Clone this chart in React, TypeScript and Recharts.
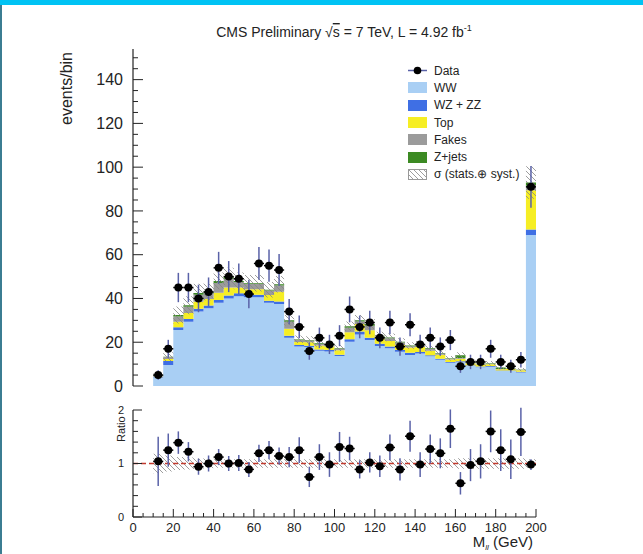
import { ComposedChart, Area, Scatter, ErrorBar, XAxis, YAxis, ReferenceLine, Legend } from 'recharts';

// lower edge of each 5 GeV bin in M_ll
const binLow = [10, 15, 20, 25, 30, 35, 40, 45, 50, 55, 60, 65, 70, 75, 80, 85, 90, 95, 100, 105, 110, 115, 120, 125, 130, 135, 140, 145, 150, 155, 160, 165, 170, 175, 180, 185, 190, 195];

// background stack, events per bin
const ww = [4.0, 9.6, 25.6, 29.4, 34.0, 35.5, 38.0, 40.0, 41.0, 40.5, 40.5, 38.0, 37.5, 22.0, 18.0, 17.8, 16.1, 15.8, 13.7, 20.2, 23.5, 21.0, 18.3, 17.2, 15.7, 14.2, 14.9, 13.6, 12.0, 10.6, 10.8, 9.2, 8.6, 8.8, 6.8, 6.8, 6.2, 69.0];
const wzzz = [0.3, 1.8, 1.2, 1.2, 1.3, 1.3, 1.3, 1.4, 1.4, 1.3, 1.2, 1.0, 1.1, 1.0, 0.7, 0.6, 0.6, 0.6, 0.6, 1.2, 1.4, 1.0, 1.0, 0.8, 0.8, 1.0, 0.6, 0.5, 0.5, 0.4, 0.5, 0.3, 0.3, 0.3, 0.3, 0.3, 0.3, 2.5];
const topq = [0.2, 0.9, 2.6, 2.8, 3.2, 3.0, 3.3, 3.6, 2.6, 2.4, 2.5, 2.6, 4.5, 3.2, 1.4, 1.6, 1.8, 1.6, 2.0, 3.2, 3.4, 3.5, 2.5, 2.6, 2.4, 2.4, 2.3, 2.0, 1.8, 1.1, 1.2, 0.9, 0.9, 0.8, 0.6, 0.7, 0.7, 18.0];
const fakes = [0.2, 0.9, 2.4, 2.8, 3.2, 2.6, 4.5, 4.0, 2.5, 2.4, 2.4, 2.0, 2.8, 3.2, 1.0, 0.8, 0.7, 0.7, 0.8, 2.0, 1.2, 2.0, 0.9, 1.2, 1.0, 0.6, 0.9, 0.8, 0.6, 0.4, 0.3, 0.3, 0.2, 0.3, 0.1, 0.2, 0.2, 2.0];
const zjets = [0.1, 0.2, 0.6, 0.7, 0.8, 0.6, 0.9, 1.0, 0.5, 0.4, 0.4, 0.4, 0.6, 0.6, 0.3, 0.2, 0.3, 0.3, 0.3, 0.7, 0.5, 0.8, 0.3, 0.4, 0.3, 0.3, 0.3, 0.3, 0.2, 0.2, 1.2, 0.2, 0.2, 0.2, 0.7, 0.1, 0.1, 1.5];

// relative stat+syst uncertainty on the total background
const relUnc = [0.18, 0.15, 0.12, 0.11, 0.10, 0.09, 0.08, 0.08, 0.08, 0.08, 0.08, 0.08, 0.08, 0.08, 0.08, 0.08, 0.08, 0.08, 0.08, 0.08, 0.08, 0.08, 0.08, 0.08, 0.08, 0.08, 0.08, 0.08, 0.08, 0.08, 0.10, 0.10, 0.10, 0.10, 0.10, 0.10, 0.10, 0.08];

// observed events and their errors
const dataCounts = [5, 17, 45, 45, 40, 43, 54, 50, 49, 42, 56, 55, 53, 34, 27, 16, 22, 19, 23, 35, 27, 29, 22, 29, 18, 28, 19, 22, 18, 21, 9, 11, 11, 17, 11, 9, 12, 91];
const dataErr = [2.2, 4.1, 6.7, 6.7, 6.3, 6.6, 7.3, 7.1, 7.0, 6.5, 7.5, 7.4, 7.3, 5.8, 5.2, 4.0, 4.7, 4.4, 4.8, 5.9, 5.2, 5.4, 4.7, 5.4, 4.2, 5.3, 4.4, 4.7, 4.2, 4.6, 3.0, 3.3, 3.3, 4.1, 3.3, 3.0, 3.5, 9.5];

// data / background
const ratioVals = [1.04, 1.25, 1.39, 1.22, 0.94, 1.00, 1.12, 1.00, 1.01, 0.89, 1.19, 1.25, 1.14, 1.12, 1.25, 0.75, 1.12, 0.98, 1.31, 1.28, 0.89, 1.02, 0.95, 1.30, 0.89, 1.51, 0.98, 1.27, 1.19, 1.65, 0.63, 0.97, 1.04, 1.60, 1.25, 1.08, 1.59, 0.98];
const ratioErr = [0.46, 0.31, 0.21, 0.18, 0.15, 0.15, 0.15, 0.14, 0.15, 0.14, 0.16, 0.17, 0.16, 0.19, 0.24, 0.19, 0.24, 0.23, 0.28, 0.22, 0.17, 0.19, 0.20, 0.24, 0.21, 0.29, 0.23, 0.27, 0.28, 0.36, 0.21, 0.30, 0.32, 0.39, 0.39, 0.37, 0.45, 0.10];

const xTicks = [0, 5, 10, 15, 20, 25, 30, 35, 40, 45, 50, 55, 60, 65, 70, 75, 80, 85, 90, 95, 100, 105, 110, 115, 120, 125, 130, 135, 140, 145, 150, 155, 160, 165, 170, 175, 180, 185, 190, 195, 200];
const yTicks = [0, 5, 10, 15, 20, 25, 30, 35, 40, 45, 50, 55, 60, 65, 70, 75, 80, 85, 90, 95, 100, 105, 110, 115, 120, 125, 130, 135, 140, 145, 150];
const ratioTicks = [0, 0.2, 0.4, 0.6, 0.8, 1, 1.2, 1.4, 1.6, 1.8, 2];

const BIN_HALF = 2.5;

const COLORS = {
  ww: '#a9cff4',
  wzzz: '#3f6fe4',
  top: '#f6ee24',
  fakes: '#9b9b9b',
  zjets: '#3c8a23',
  err: '#5a62a8',
};

const legendItems = [
  { name: 'WW', color: COLORS.ww },
  { name: 'WZ + ZZ', color: COLORS.wzzz },
  { name: 'Top', color: COLORS.top },
  { name: 'Fakes', color: COLORS.fakes },
  { name: 'Z+jets', color: COLORS.zjets },
];

const INK = '#232323';
const FONT = '"Liberation Sans", Arial, Helvetica, sans-serif';

const stackRows = binLow.map((x, i) => {
  const total = ww[i] + wzzz[i] + topq[i] + fakes[i] + zjets[i];
  return {
    x,
    ww: ww[i],
    wzzz: wzzz[i],
    top: topq[i],
    fakes: fakes[i],
    zjets: zjets[i],
    uncBase: total * (1 - relUnc[i]),
    uncBand: 2 * total * relUnc[i],
  };
});
// close the last step at the upper edge
stackRows.push({ ...stackRows[stackRows.length - 1], x: 200 });

const ratioRows = binLow.map((x, i) => ({ x, uncBase: 1 - relUnc[i], uncBand: 2 * relUnc[i] }));
ratioRows.push({ ...ratioRows[ratioRows.length - 1], x: 200 });

const dataPoints = binLow.map((x, i) => ({ x: x + BIN_HALF, y: dataCounts[i], ey: dataErr[i], ex: BIN_HALF }));
const ratioPoints = binLow.map((x, i) => ({ x: x + BIN_HALF, y: ratioVals[i], ey: ratioErr[i], ex: BIN_HALF }));

const onStep = (v: number, step: number) => Math.abs(v / step - Math.round(v / step)) < 1e-6;

// ROOT style ticks: drawn inward from the frame, labels only on major values
function makeTick(side: 'left' | 'right' | 'top' | 'bottom', major: number, len: [number, number], label?: { size: number; gap: number }) {
  return (props: any) => {
    const { x, y, payload } = props;
    const v = payload.value;
    const isMajor = onStep(v, major);
    const l = isMajor ? len[0] : len[1];
    let line;
    if (side === 'left') line = <line x1={x} x2={x + l} y1={y} y2={y} stroke={INK} />;
    else if (side === 'right') line = <line x1={x} x2={x - l} y1={y} y2={y} stroke={INK} />;
    else if (side === 'top') line = <line x1={x} x2={x} y1={y} y2={y + l} stroke={INK} />;
    else line = <line x1={x} x2={x} y1={y} y2={y - l} stroke={INK} />;
    let text = null;
    if (label && isMajor) {
      text =
        side === 'left' ? (
          <text x={x - label.gap} y={y} dy="0.36em" textAnchor="end" fontSize={label.size} fill={INK} fontFamily={FONT}>
            {v}
          </text>
        ) : (
          <text x={x} y={y + label.gap} textAnchor="middle" fontSize={label.size} fill={INK} fontFamily={FONT}>
            {v}
          </text>
        );
    }
    return (
      <g>
        {line}
        {text}
      </g>
    );
  };
}

const axisLine = { stroke: INK, strokeWidth: 1.2 };

function HatchDefs({ id }: { id: string }) {
  return (
    <defs>
      <pattern id={id} width="5" height="5" patternUnits="userSpaceOnUse">
        <path d="M0,0 L5,5 M-1,4 L1,6 M4,-1 L6,1" stroke="#858585" strokeWidth="0.8" />
      </pattern>
    </defs>
  );
}

function StackLegend() {
  const row = { display: 'flex', alignItems: 'center', height: 17.3 } as const;
  const swatch = { width: 19, height: 11, marginRight: 7 } as const;
  return (
    <div style={{ fontFamily: FONT, fontSize: 12, color: INK, lineHeight: '12px' }}>
      <div style={row}>
        <svg width={19} height={11} style={{ marginRight: 7 }}>
          <line x1={0} x2={19} y1={5.5} y2={5.5} stroke={COLORS.err} strokeWidth={1.5} />
          <circle cx={9.5} cy={5.5} r={3.8} fill="#000" />
        </svg>
        Data
      </div>
      {legendItems.map((it) => (
        <div key={it.name} style={row}>
          <div style={{ ...swatch, background: it.color }} />
          {it.name}
        </div>
      ))}
      <div style={row}>
        <svg width={19} height={11} style={{ marginRight: 7 }}>
          <HatchDefs id="hatch-legend" />
          <rect x={0.5} y={0.5} width={18} height={10} fill="url(#hatch-legend)" stroke="#999" />
        </svg>
        σ (stats.⊕ syst.)
      </div>
    </div>
  );
}

const dot = (p: any) => <circle cx={p.cx} cy={p.cy} r={4} fill="#000" />;

export default function App() {
  return (
    <div style={{ position: 'absolute', left: 0, top: 0, width: 643, height: 554, background: '#fff', overflow: 'hidden' }}>
      <div style={{ position: 'absolute', left: 0, top: 0, width: 643, height: 5, background: '#00c3f4' }} />
      <div style={{ position: 'absolute', left: 0, top: 5, width: 2, height: 549, background: '#3b7d92' }} />

      <div style={{ position: 'absolute', left: 0, top: 0 }}>
        <ComposedChart width={643} height={400} data={stackRows} margin={{ top: 49, right: 107, bottom: 14, left: 0 }}>
          <HatchDefs id="hatch-main" />
          <XAxis dataKey="x" type="number" domain={[0, 200]} ticks={xTicks} interval={0} allowDataOverflow height={0} tickSize={0} tickMargin={0} tickLine={false} axisLine={axisLine} tick={makeTick('bottom', 20, [10, 5])} />
          <XAxis xAxisId="top" orientation="top" dataKey="x" type="number" domain={[0, 200]} ticks={xTicks} interval={0} allowDataOverflow height={0} tickSize={0} tickMargin={0} tickLine={false} axisLine={axisLine} tick={makeTick('top', 20, [10, 5])} />
          <YAxis type="number" domain={[0, 154]} ticks={yTicks} interval={0} allowDataOverflow width={133} tickSize={0} tickMargin={0} tickLine={false} axisLine={axisLine} tick={makeTick('left', 20, [10, 5], { size: 16, gap: 10 })} />
          <YAxis yAxisId="right" orientation="right" type="number" domain={[0, 154]} ticks={yTicks} interval={0} allowDataOverflow width={0} tickSize={0} tickMargin={0} tickLine={false} axisLine={axisLine} tick={makeTick('right', 20, [10, 5])} />

          <Area type="stepAfter" dataKey="ww" stackId="mc" fill={COLORS.ww} fillOpacity={1} stroke="none" isAnimationActive={false} />
          <Area type="stepAfter" dataKey="wzzz" stackId="mc" fill={COLORS.wzzz} fillOpacity={1} stroke="none" isAnimationActive={false} />
          <Area type="stepAfter" dataKey="top" stackId="mc" fill={COLORS.top} fillOpacity={1} stroke="none" isAnimationActive={false} />
          <Area type="stepAfter" dataKey="fakes" stackId="mc" fill={COLORS.fakes} fillOpacity={1} stroke="none" isAnimationActive={false} />
          <Area type="stepAfter" dataKey="zjets" stackId="mc" fill={COLORS.zjets} fillOpacity={1} stroke="none" isAnimationActive={false} />
          <Area type="stepAfter" dataKey="uncBase" stackId="unc" fill="none" stroke="none" isAnimationActive={false} />
          <Area type="stepAfter" dataKey="uncBand" stackId="unc" fill="url(#hatch-main)" fillOpacity={1} stroke="none" isAnimationActive={false} />

          <Scatter data={dataPoints} dataKey="y" shape={dot} isAnimationActive={false}>
            <ErrorBar dataKey="ey" direction="y" width={0} stroke={COLORS.err} strokeWidth={1.5} isAnimationActive={false} />
            <ErrorBar dataKey="ex" direction="x" width={0} stroke="#000" strokeWidth={1.5} isAnimationActive={false} />
          </Scatter>

          <Legend layout="vertical" align="center" verticalAlign="middle" content={() => <StackLegend />} wrapperStyle={{ left: 408, top: 62, width: 130 }} />
        </ComposedChart>
      </div>

      <div style={{ position: 'absolute', left: 0, top: 400 }}>
        <ComposedChart width={643} height={154} data={ratioRows} margin={{ top: 10, right: 107, bottom: 17, left: 0 }}>
          <HatchDefs id="hatch-ratio" />
          <XAxis dataKey="x" type="number" domain={[0, 200]} ticks={xTicks} interval={0} allowDataOverflow height={20} tickSize={0} tickMargin={0} tickLine={false} axisLine={axisLine} tick={makeTick('bottom', 20, [8, 4], { size: 13, gap: 15 })} />
          <XAxis xAxisId="top" orientation="top" dataKey="x" type="number" domain={[0, 200]} ticks={xTicks} interval={0} allowDataOverflow height={0} tickSize={0} tickMargin={0} tickLine={false} axisLine={axisLine} tick={makeTick('top', 20, [8, 4])} />
          <YAxis type="number" domain={[0, 2]} ticks={ratioTicks} interval={0} allowDataOverflow width={133} tickSize={0} tickMargin={0} tickLine={false} axisLine={axisLine} tick={makeTick('left', 1, [9, 5], { size: 11, gap: 9 })} />
          <YAxis yAxisId="right" orientation="right" type="number" domain={[0, 2]} ticks={ratioTicks} interval={0} allowDataOverflow width={0} tickSize={0} tickMargin={0} tickLine={false} axisLine={axisLine} tick={makeTick('right', 1, [9, 5])} />

          <Area type="stepAfter" dataKey="uncBase" stackId="unc" fill="none" stroke="none" isAnimationActive={false} />
          <Area type="stepAfter" dataKey="uncBand" stackId="unc" fill="url(#hatch-ratio)" fillOpacity={1} stroke="none" isAnimationActive={false} />
          <ReferenceLine y={1} stroke="#c23a2e" strokeWidth={1.5} strokeDasharray="5 3" />

          <Scatter data={ratioPoints} dataKey="y" shape={dot} isAnimationActive={false}>
            <ErrorBar dataKey="ey" direction="y" width={0} stroke={COLORS.err} strokeWidth={1.5} isAnimationActive={false} />
            <ErrorBar dataKey="ex" direction="x" width={0} stroke="#000" strokeWidth={1.5} isAnimationActive={false} />
          </Scatter>
        </ComposedChart>
      </div>

      <svg width={643} height={554} style={{ position: 'absolute', left: 0, top: 0, pointerEvents: 'none' }} fontFamily={FONT} fill={INK}>
        <text x={344} y={37} textAnchor="middle" fontSize={14}>
          CMS Preliminary √<tspan textDecoration="overline">s</tspan> = 7 TeV, L = 4.92 fb
          <tspan dy={-6} fontSize={9}>-1</tspan>
        </text>
        <text transform="translate(72,52) rotate(-90)" textAnchor="end" fontSize={16}>
          events/bin
        </text>
        <text transform="translate(125,442) rotate(-90)" textAnchor="start" fontSize={11}>
          Ratio
        </text>
        <text x={533} y={547} textAnchor="end" fontSize={15}>
          M<tspan fontSize={8} dy={3} fontStyle="italic">ll</tspan>
          <tspan dy={-3}>{'  '}(GeV)</tspan>
        </text>
      </svg>
    </div>
  );
}
